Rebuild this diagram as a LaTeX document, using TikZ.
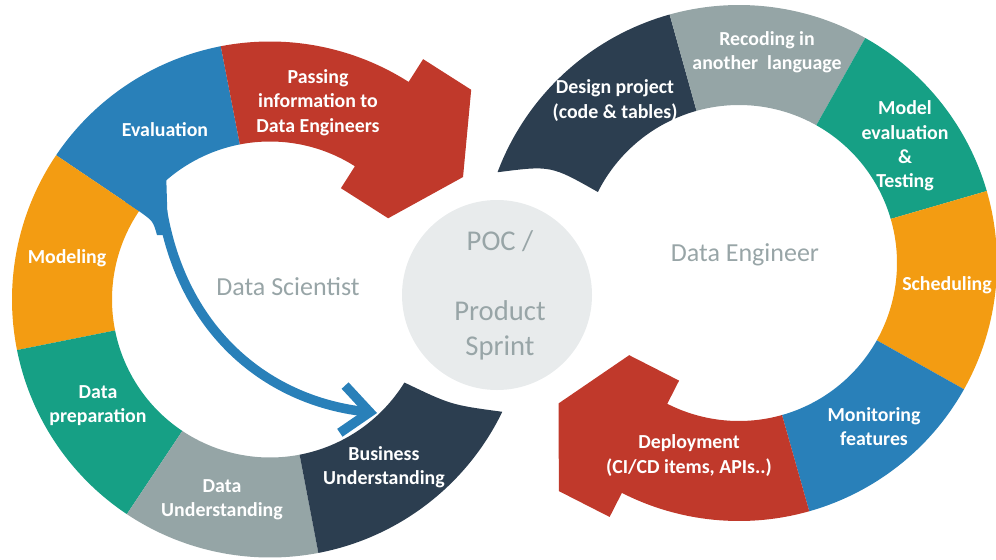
\documentclass[tikz,border=0pt]{standalone}
\usepackage{fontspec}
\setmainfont{Carlito}
\usepackage{tikz}
\usetikzlibrary{arrows.meta, calc}
\definecolor{bluecolor}{RGB}{41, 128, 185}
\definecolor{redcolor}{RGB}{192, 57, 43}
\definecolor{orangecolor}{RGB}{243, 156, 18}
\definecolor{greencolor}{RGB}{22, 160, 133}
\definecolor{graycolor}{RGB}{149, 165, 166}
\definecolor{darkcolor}{RGB}{44, 62, 80}
\definecolor{poccolor}{RGB}{232, 235, 236}
\definecolor{roletextcolor}{RGB}{152, 165, 167}

\begin{document}
\begin{tikzpicture}[x=0.02cm, y=0.02cm,
    ringtext/.style={text=white, align=center, font=\fontsize{11.3}{13.9}\selectfont\bfseries},
    roletext/.style={text=roletextcolor, align=center, font=\fontsize{14.8}{18}\selectfont}]
    \useasboundingbox (0, 0) rectangle (996, 559);

    % Ring centres
    \coordinate (lc) at (270, 259.5);
    \coordinate (rc) at (739, 296);

    % POC circle
    \fill[poccolor] (497, 264) circle (95);

    % Left ring: Evaluation
    \fill[bluecolor] ($(lc)+(146:258)$) arc[start angle=146, end angle=101, radius=258] -- ($(lc)+(101:158)$) arc[start angle=101, end angle=146, radius=158] -- cycle;
    % Left ring: Passing information (arrow)
    \fill[redcolor] ($(lc)+(101:258)$) arc[start angle=101, end angle=57.5, radius=258]
        -- ($(lc)+(57.5:285)$) -- ($(lc)+(57.5:285)+(-32.5:57)$) -- ($(lc)+(57.5:207)+(-32.5:97)$)
        -- ($(lc)+(57.5:132)+(-32.5:56)$) -- ($(lc)+(57.5:132)$)
        -- ($(lc)+(57.5:158)$) arc[start angle=57.5, end angle=101, radius=158] -- cycle;
    % Left ring: Modeling
    \fill[orangecolor] ($(lc)+(191.3:258)$) arc[start angle=191.3, end angle=146, radius=258] -- ($(lc)+(146:158)$) arc[start angle=146, end angle=191.3, radius=158] -- cycle;
    % Left ring: Data preparation
    \fill[greencolor] ($(lc)+(236.3:258)$) arc[start angle=236.3, end angle=191.3, radius=258] -- ($(lc)+(191.3:158)$) arc[start angle=191.3, end angle=236.3, radius=158] -- cycle;
    % Left ring: Data Understanding
    \fill[graycolor] ($(lc)+(280.8:258)$) arc[start angle=280.8, end angle=236.3, radius=258] -- ($(lc)+(236.3:158)$) arc[start angle=236.3, end angle=280.8, radius=158] -- cycle;
    % Left ring: Business Understanding
    \fill[darkcolor] ($(lc)+(280.8:258)$) arc[start angle=280.8, end angle=334.2, radius=258]
        .. controls (451.1, 154.1) .. ($(lc)+(328.3:158)$) arc[start angle=328.3, end angle=280.8, radius=158] -- cycle;

    % Right ring: Design project
    \fill[darkcolor] ($(rc)+(105.6:258)$) arc[start angle=105.6, end angle=159.4, radius=258]
        .. controls (550.9, 393.6) .. ($(rc)+(153.3:158)$) arc[start angle=153.3, end angle=105.6, radius=158] -- cycle;
    % Right ring: Recoding
    \fill[graycolor] ($(rc)+(60.7:258)$) arc[start angle=60.7, end angle=105.6, radius=258] -- ($(rc)+(105.6:158)$) arc[start angle=105.6, end angle=60.7, radius=158] -- cycle;
    % Right ring: Model evaluation
    \fill[greencolor] ($(rc)+(16.2:258)$) arc[start angle=16.2, end angle=60.7, radius=258] -- ($(rc)+(60.7:158)$) arc[start angle=60.7, end angle=16.2, radius=158] -- cycle;
    % Right ring: Scheduling
    \fill[orangecolor] ($(rc)+(-29.3:258)$) arc[start angle=-29.3, end angle=16.2, radius=258] -- ($(rc)+(16.2:158)$) arc[start angle=16.2, end angle=-29.3, radius=158] -- cycle;
    % Right ring: Monitoring
    \fill[bluecolor] ($(rc)+(-74.2:258)$) arc[start angle=-74.2, end angle=-29.3, radius=258] -- ($(rc)+(-29.3:158)$) arc[start angle=-29.3, end angle=-74.2, radius=158] -- cycle;
    % Right ring: Deployment (arrow)
    \fill[redcolor] ($(rc)+(-74.2:258)$) arc[start angle=-74.2, end angle=-117, radius=258]
        -- ($(rc)+(-117:285)$) -- ($(rc)+(-117:285)+(153:57)$) -- ($(rc)+(-117:207)+(153:97)$)
        -- ($(rc)+(-117:132)+(153:56)$) -- ($(rc)+(-117:132)$)
        -- ($(rc)+(-117:158)$) arc[start angle=-117, end angle=-74.2, radius=158] -- cycle;

    % Feedback arrow from Evaluation to Business Understanding
    \coordinate (evaltail) at (158, 388);
    \coordinate (bizhead) at (377, 146);
    \fill[bluecolor] ($(lc)+(146:158)$) .. controls (153, 338) .. (157, 324) -- (168, 324)
        -- ($(lc)+(131:158)$) -- ($(lc)+(131:175)$) -- ($(lc)+(146:175)$) -- cycle;
    \draw[bluecolor, line width=5.4pt, -{Straight Barb[length=0.55cm, width=0.95cm, line width=5.4pt]}]
        (evaltail) .. controls (166, 239) and (260, 159) .. (bizhead);

    % Left ring labels
    \node[ringtext] (evaluation) at (165, 429) {Evaluation};
    \node[ringtext] (passing) at (318, 456.5) {Passing\\information to\\Data Engineers};
    \node[ringtext] (modeling) at (67, 301) {Modeling};
    \node[ringtext] (datapreparation) at (98, 153.5) {Data\\preparation};
    \node[ringtext] (dataunderstanding) at (222, 59) {Data\\Understanding};
    \node[ringtext] (businessunderstanding) at (384, 92) {Business\\Understanding};

    % Right ring labels
    \node[ringtext] (designproject) at (615, 458.5) {Design project\\(code \& tables)};
    \node[ringtext] (recoding) at (767, 507) {Recoding in\\another\ \ language};
    \node[ringtext] (modelevaluation) at (905, 413) {Model\\evaluation\\\&\\Testing};
    \node[ringtext] (scheduling) at (947, 274) {Scheduling};
    \node[ringtext] (monitoring) at (874, 132.5) {Monitoring\\features};
    \node[ringtext] (deployment) at (689, 103.5) {Deployment\\(CI/CD items, APIs..)};

    % Roles and centre
    \node[roletext] (datascientist) at (288, 272) {Data Scientist};
    \node[roletext] (dataengineer) at (745, 304) {Data Engineer};
    \node[roletext, font=\fontsize{16.3}{19.9}\selectfont] (poc) at (500, 264) {POC /\\[19.9pt]Product\\Sprint};
\end{tikzpicture}
\end{document}
